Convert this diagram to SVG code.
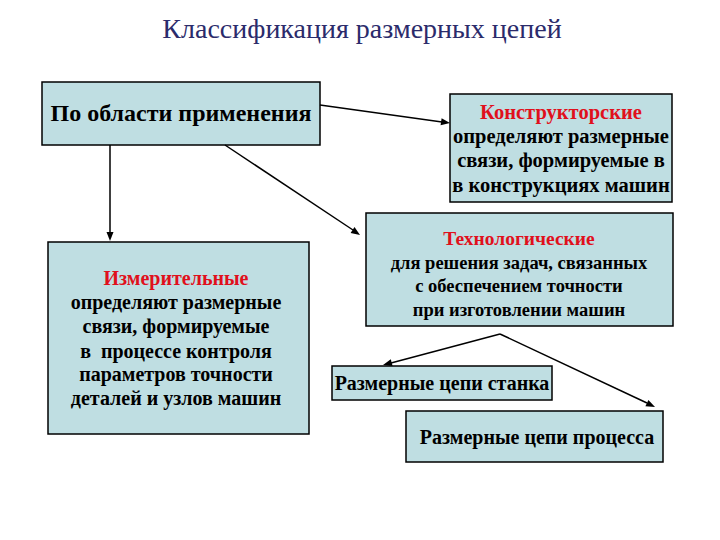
<svg xmlns="http://www.w3.org/2000/svg" width="720" height="540" viewBox="0 0 720 540">
<defs>
<style>
.box{fill:#bfdee2;stroke:#000;stroke-width:1.5}
.t{font-family:'Liberation Serif',serif;font-weight:bold;font-size:20.5px;fill:#000;text-anchor:middle}
.r{fill:#e0101c}
.ln{stroke:#000;stroke-width:1.5;fill:none}
.hd{fill:#000}
</style>
</defs>
<rect width="720" height="540" fill="#fff"/>
<text x="362" y="38" font-family="'Liberation Serif', serif" font-size="28" fill="#2b2b6b" text-anchor="middle">Классификация размерных цепей</text>
<g id="n1">
<rect class="box" x="42" y="82" width="278" height="63"/>
<text class="t" x="181" y="121" style="font-size:24px">По области применения</text>
</g>
<g id="n2">
<rect class="box" x="450" y="94" width="222" height="108"/>
<text class="t r" x="561" y="119">Конструкторские</text>
<text class="t" x="561" y="143">определяют размерные</text>
<text class="t" x="561" y="167">связи, формируемые в</text>
<text class="t" x="561" y="192">в конструкциях машин</text>
</g>
<g id="n3">
<rect class="box" x="366" y="213" width="307" height="113"/>
<text class="t r" x="519" y="245" style="font-size:19.5px">Технологические</text>
<text class="t" x="519" y="269" style="font-size:18.5px">для решения задач, связанных</text>
<text class="t" x="519" y="292" style="font-size:18.5px">с обеспечением точности</text>
<text class="t" x="519" y="316" style="font-size:18.5px">при изготовлении машин</text>
</g>
<g id="n4">
<rect class="box" x="48" y="242" width="261" height="192"/>
<text class="t r" x="176" y="285" style="font-size:20px">Измерительные</text>
<text class="t" x="176" y="309" style="font-size:20px">определяют размерные</text>
<text class="t" x="176" y="333" style="font-size:20px">связи, формируемые</text>
<text class="t" x="176" y="358" style="font-size:20px">в&#160; процессе контроля</text>
<text class="t" x="176" y="381" style="font-size:20px">параметров точности</text>
<text class="t" x="176" y="405" style="font-size:20px">деталей и узлов машин</text>
</g>
<g id="n5">
<rect class="box" x="332" y="366" width="220" height="34"/>
<text class="t" x="442" y="390" style="font-size:20px">Размерные цепи станка</text>
</g>
<g id="n6">
<rect class="box" x="406" y="411" width="257" height="51"/>
<text class="t" x="537" y="444" style="font-size:20px">Размерные цепи процесса</text>
</g>
<g id="connectors">
<line class="ln" x1="320" y1="105" x2="442" y2="122"/>
<polygon class="hd" points="450,123 440.6,125.2 441.6,118.3"/>
<line class="ln" x1="225" y1="145" x2="353" y2="230"/>
<polygon class="hd" points="360,235 350.6,232.9 354.5,227.1"/>
<line class="ln" x1="110" y1="145" x2="110" y2="233"/>
<polygon class="hd" points="110,241 106.5,232 113.5,232"/>
<line class="ln" x1="500" y1="334" x2="391" y2="363"/>
<polygon class="hd" points="383,365 390.8,359.3 392.6,366.1"/>
<line class="ln" x1="500" y1="334" x2="647" y2="403"/>
<polygon class="hd" points="655,407 645.4,406.3 648.4,400"/>
</g>
</svg>
